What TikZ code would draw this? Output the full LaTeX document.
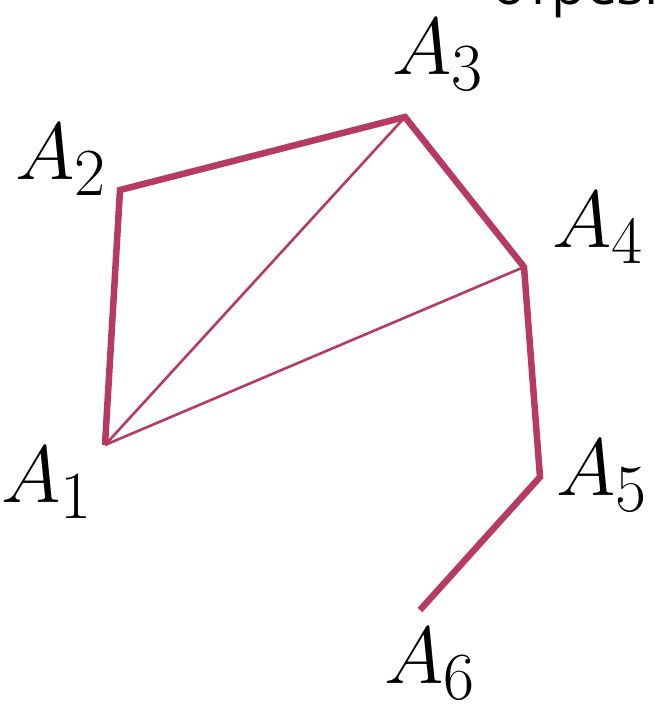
\documentclass[tikz,border=0pt]{standalone}
\usepackage{fontspec}
\newfontfamily\cyrfont{Open Sans}
\usetikzlibrary{positioning}
\definecolor{ChainRose}{RGB}{183,58,98}
\newcommand{\vname}[1]{\scalebox{3.25}{\Huge$A_{#1}$}}

\begin{document}
\begin{tikzpicture}[x=1pt, y=-1pt,
  side/.style={ChainRose, line width=6.5pt},
  diag/.style={ChainRose, line width=2.6pt},
  vlabel/.style={inner sep=0pt}]
  \useasboundingbox (0,0) rectangle (654,706);

  % Vertices of the broken line
  \coordinate (A1) at (105,445);
  \coordinate (A2) at (120,190);
  \coordinate (A3) at (405,117);
  \coordinate (A4) at (524,267);
  \coordinate (A5) at (540,477);
  \coordinate (A6) at (420,610);

  % Diagonals from A1
  \draw[diag] (A1) -- (A3);
  \draw[diag] (A1) -- (A4);

  % Broken line A1 ... A6
  \draw[side] (A1) -- (A2) -- (A3) -- (A4) -- (A5) -- (A6);

  % Vertex labels
  \node[vlabel] (lab1) at (47,483) {\vname{1}};
  \node[vlabel] (lab2) at (61,160) {\vname{2}};
  \node[vlabel] (lab3) at (438,55) {\vname{3}};
  \node[vlabel] (lab4) at (598,228) {\vname{4}};
  \node[vlabel] (lab5) at (602,476) {\vname{5}};
  \node[vlabel] (lab6) at (430,664) {\vname{6}};

  % Heading cut off by the frame
  \begin{scope}
    \clip (0,0) rectangle (654,706);
    \node[anchor=base west, inner sep=0pt, font=\cyrfont\fontsize{56}{60}\selectfont] (head) at (492,5) {отрезк};
  \end{scope}
\end{tikzpicture}
\end{document}
